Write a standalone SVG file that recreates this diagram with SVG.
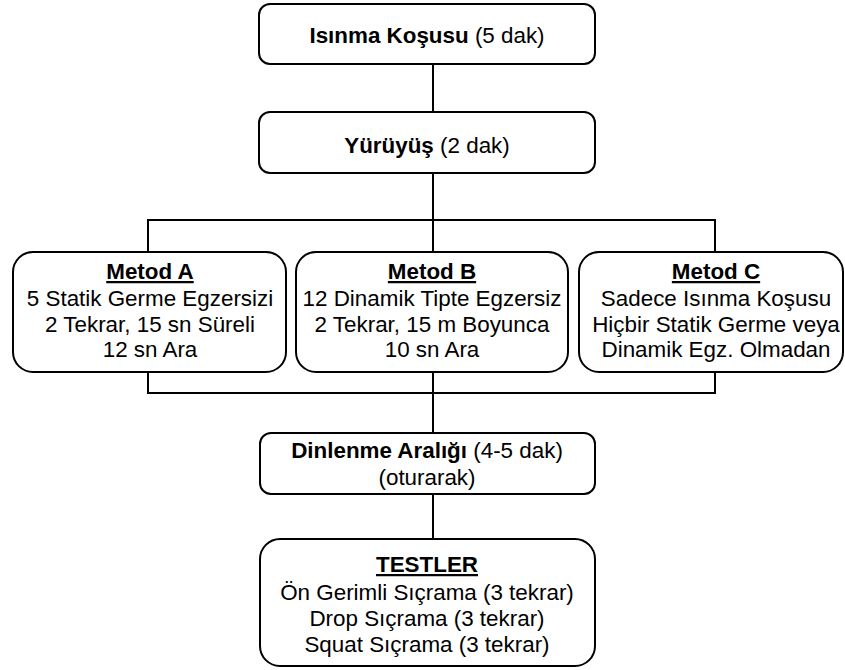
<svg xmlns="http://www.w3.org/2000/svg" width="845" height="670" viewBox="0 0 845 670">
<style>
.box{fill:#fff;stroke:#000;stroke-width:2}
.ln{stroke:#000;stroke-width:2;fill:none}
text{font-family:"Liberation Sans",Arial,sans-serif;font-size:22.4px;fill:#000;text-anchor:middle}
.b{font-weight:bold}
.u{font-weight:bold;text-decoration:underline}
</style>
<rect width="845" height="670" fill="#fff"/>
<g id="connectors">
<line class="ln" x1="433" y1="64" x2="433" y2="112"/>
<line class="ln" x1="433" y1="173" x2="433" y2="220"/>
<polyline class="ln" points="148,252 148,220 715,220 715,252"/>
<line class="ln" x1="433" y1="220" x2="433" y2="252"/>
<polyline class="ln" points="148,372 148,393 715,393 715,372"/>
<line class="ln" x1="433" y1="372" x2="433" y2="433"/>
<line class="ln" x1="433" y1="494" x2="433" y2="539"/>
</g>
<g id="isinma">
<rect class="box" x="259" y="4" width="336" height="60" rx="11"/>
<text x="427" y="43"><tspan class="b">Isınma Koşusu</tspan> (5 dak)</text>
</g>
<g id="yuruyus">
<rect class="box" x="259" y="112" width="336" height="61" rx="11"/>
<text x="427" y="153"><tspan class="b">Yürüyüş</tspan> (2 dak)</text>
</g>
<g id="metodA">
<rect class="box" x="13" y="252" width="273" height="120" rx="20"/>
<text x="150" y="279" class="u">Metod A</text>
<text x="150" y="306">5 Statik Germe Egzersizi</text>
<text x="150" y="332">2 Tekrar, 15 sn Süreli</text>
<text x="150" y="357">12 sn Ara</text>
</g>
<g id="metodB">
<rect class="box" x="296" y="252" width="272" height="120" rx="20"/>
<text x="432" y="279" class="u">Metod B</text>
<text x="432" y="306">12 Dinamik Tipte Egzersiz</text>
<text x="432" y="332">2 Tekrar, 15 m Boyunca</text>
<text x="432" y="357">10 sn Ara</text>
</g>
<g id="metodC">
<rect class="box" x="579" y="252" width="264" height="120" rx="20"/>
<text x="716" y="279" class="u">Metod C</text>
<text x="716" y="306">Sadece Isınma Koşusu</text>
<text x="716" y="332">Hiçbir Statik Germe veya</text>
<text x="716" y="357">Dinamik Egz. Olmadan</text>
</g>
<g id="dinlenme">
<rect class="box" x="260" y="433" width="335" height="61" rx="11"/>
<text x="427" y="458"><tspan class="b">Dinlenme Aralığı</tspan> (4-5 dak)</text>
<text x="427" y="485">(oturarak)</text>
</g>
<g id="testler">
<rect class="box" x="260" y="539" width="335" height="127" rx="20"/>
<text x="427" y="572" class="u">TESTLER</text>
<text x="427" y="600">Ön Gerimli Sıçrama (3 tekrar)</text>
<text x="427" y="626">Drop Sıçrama (3 tekrar)</text>
<text x="427" y="652">Squat Sıçrama (3 tekrar)</text>
</g>
</svg>
